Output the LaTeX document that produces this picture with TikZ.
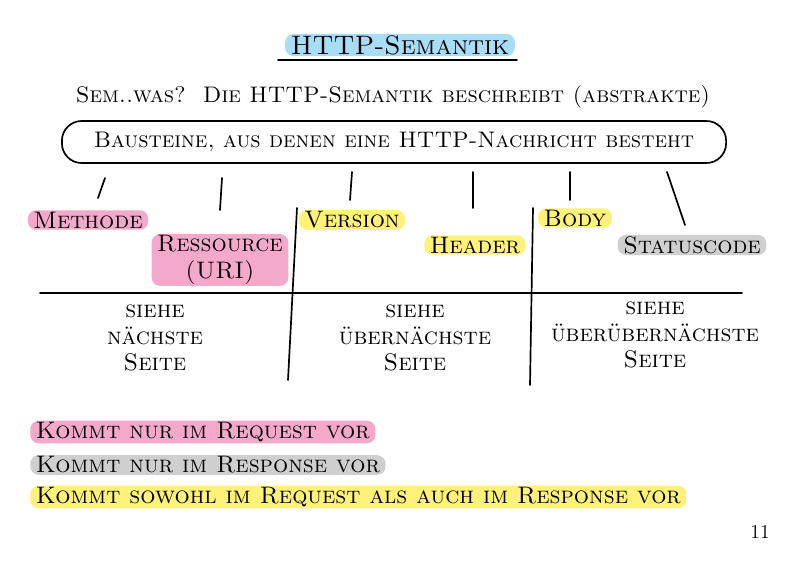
\documentclass[tikz,border=0pt]{standalone}
\usetikzlibrary{positioning}
\definecolor{hlpink}{HTML}{F4A9CB}
\definecolor{hlyellow}{HTML}{FFF27A}
\definecolor{hlblue}{HTML}{A8DDF5}
\definecolor{hlgray}{HTML}{CFCFCF}
\tikzset{
  word/.style={font=\fontsize{17}{19}\selectfont\scshape, inner sep=2pt},
  tag/.style={word, rounded corners=6pt, inner xsep=4pt, inner ysep=1pt, align=center},
  hand/.style={line width=1.2pt, line cap=round}
}
\begin{document}
\begin{tikzpicture}[x=0.025cm,y=-0.025cm]
\useasboundingbox (0,0) rectangle (800,566);
% Titel
\node[tag, fill=hlblue, font=\fontsize{19}{21}\selectfont\scshape] (title) at (400,45) {HTTP-Semantik};
\draw[hand] (278,60) -- (517,60);
\node[word, font=\fontsize{16}{18}\selectfont\scshape] (intro) at (393,97) {Sem..was?\ \ Die HTTP-Semantik beschreibt (abstrakte)};
\node[word, font=\fontsize{16}{18}\selectfont\scshape, draw, hand, rounded corners=14pt, minimum width=16.6cm, minimum height=1.05cm] (bubble) at (394,142) {Bausteine, aus denen eine HTTP-Nachricht besteht};
% Bausteine
\node[tag, fill=hlpink] (methode) at (88,220) {Methode};
\node[tag, fill=hlpink] (ressource) at (220,260) {Ressource\\(URI)};
\node[tag, fill=hlyellow] (version) at (352,220) {Version};
\node[tag, fill=hlyellow] (header) at (475,245) {Header};
\node[tag, fill=hlyellow] (body) at (575,218) {Body};
\node[tag, fill=hlgray] (status) at (692,245) {Statuscode};
\draw[hand] (105,178) -- (98,198);
\draw[hand] (222,178) -- (220,210);
\draw[hand] (352,172) -- (350,200);
\draw[hand] (473,172) -- (473,208);
\draw[hand] (570,172) -- (570,200);
\draw[hand] (667,172) -- (685,225);
% Tabelle
\draw[hand] (40,293) -- (742,293);
\draw[hand] (297,208) -- (288,380);
\draw[hand] (533,208) -- (530,385);
\node[word, align=center] (s1) at (155,338) {siehe\\nächste\\Seite};
\node[word, align=center] (s2) at (415,338) {siehe\\übernächste\\Seite};
\node[word, align=center] (s3) at (655,335) {siehe\\überübernächste\\Seite};
% Legende
\node[tag, fill=hlpink, anchor=west] (lreq) at (30,432) {Kommt nur im Request vor};
\node[tag, fill=hlgray, anchor=west] (lres) at (30,465) {Kommt nur im Response vor};
\node[tag, fill=hlyellow, anchor=west] (lboth) at (30,497) {Kommt sowohl im Request als auch im Response vor};
\node[font=\fontsize{14}{16}\selectfont] (page) at (760,532) {11};
\end{tikzpicture}
\end{document}
